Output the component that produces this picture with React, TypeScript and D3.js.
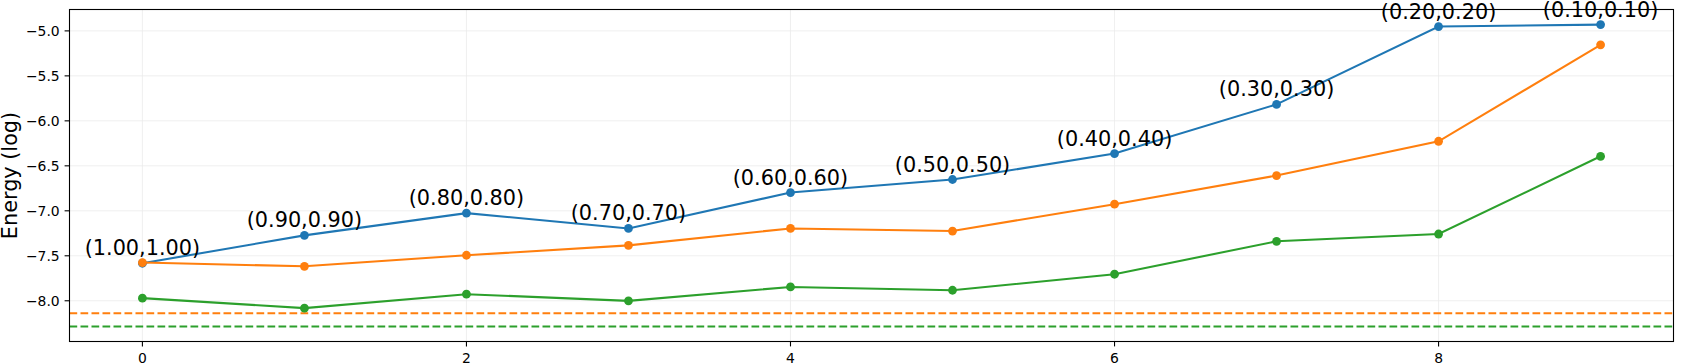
import React from "react";
import * as d3 from "d3";

const steps = [0, 1, 2, 3, 4, 5, 6, 7, 8, 9];
const labels = ["(1.00,1.00)", "(0.90,0.90)", "(0.80,0.80)", "(0.70,0.70)", "(0.60,0.60)", "(0.50,0.50)", "(0.40,0.40)", "(0.30,0.30)", "(0.20,0.20)", "(0.10,0.10)"];
const blueSeries = [-7.583, -7.273, -7.026, -7.196, -6.797, -6.652, -6.364, -5.817, -4.952, -4.93];
const orangeSeries = [-7.575, -7.617, -7.494, -7.384, -7.196, -7.225, -6.926, -6.608, -6.227, -5.155];
const greenSeries = [-7.971, -8.082, -7.927, -8.001, -7.846, -7.883, -7.705, -7.339, -7.258, -6.394];
const orangeRef = -8.14;
const greenRef = -8.285;
const xTicks = [0, 2, 4, 6, 8];
const yTicks = [-8.0, -7.5, -7.0, -6.5, -6.0, -5.5, -5.0];

const BLUE = "#1f77b4";
const ORANGE = "#ff7f0e";
const GREEN = "#2ca02c";
const FONT = "DejaVu Sans, sans-serif";

export default function App() {
  const W = 1683, H = 364;
  const L = 69.5, R = 1673.5, T = 9.5, B = 341.5;
  const xs = d3.scaleLinear().domain([-0.45, 9.45]).range([L, R]);
  const all = [...blueSeries, ...orangeSeries, ...greenSeries, orangeRef, greenRef];
  const lo = d3.min(all)!, hi = d3.max(all)!;
  const pad = (hi - lo) * 0.05;
  const ys = d3.scaleLinear().domain([lo - pad, hi + pad]).range([B, T]);
  const line = d3.line<number>().x((_, i) => xs(steps[i])).y((d) => ys(d));
  const fmt = (v: number) => v.toFixed(1).replace("-", "\u2212");
  const series = [
    { vals: blueSeries, color: BLUE },
    { vals: orangeSeries, color: ORANGE },
    { vals: greenSeries, color: GREEN },
  ];
  return (
    <svg width={W} height={H} style={{ position: "absolute", left: 0, top: 0, background: "#fff" }} fontFamily={FONT}>
      <rect x={0} y={0} width={W} height={H} fill="#fff" />
      {xTicks.map((t) => (
        <line key={"gx" + t} x1={xs(t)} x2={xs(t)} y1={T} y2={B} stroke="#ebebeb" strokeWidth={0.8} />
      ))}
      {yTicks.map((t) => (
        <line key={"gy" + t} x1={L} x2={R} y1={ys(t)} y2={ys(t)} stroke="#ebebeb" strokeWidth={0.8} />
      ))}
      <line x1={L} x2={R} y1={ys(orangeRef)} y2={ys(orangeRef)} stroke={ORANGE} strokeWidth={2} strokeDasharray="7.7,3.3" />
      <line x1={L} x2={R} y1={ys(greenRef)} y2={ys(greenRef)} stroke={GREEN} strokeWidth={2} strokeDasharray="7.7,3.3" />
      {series.map((s, k) => (
        <g key={k}>
          <path d={line(s.vals) || ""} fill="none" stroke={s.color} strokeWidth={2.08} />
          {s.vals.map((v, i) => (
            <circle key={i} cx={xs(steps[i])} cy={ys(v)} r={4.4} fill={s.color} />
          ))}
        </g>
      ))}
      <rect x={L} y={T} width={R - L} height={B - T} fill="none" stroke="#000" strokeWidth={1.1} />
      {blueSeries.map((v, i) => (
        <text key={"a" + i} x={xs(steps[i])} y={ys(v) - 8} textAnchor="middle" fontSize={20.8} fill="#000">
          {labels[i]}
        </text>
      ))}
      {xTicks.map((t) => (
        <g key={"xt" + t}>
          <line x1={xs(t)} x2={xs(t)} y1={B} y2={B + 4.9} stroke="#000" strokeWidth={1.1} />
          <text x={xs(t)} y={B + 21} textAnchor="middle" fontSize={13.9} fill="#000">
            {t}
          </text>
        </g>
      ))}
      {yTicks.map((t) => (
        <g key={"yt" + t}>
          <line x1={L - 4.9} x2={L} y1={ys(t)} y2={ys(t)} stroke="#000" strokeWidth={1.1} />
          <text x={L - 9.8} y={ys(t)} dy="0.35em" textAnchor="end" fontSize={13.9} fill="#000">
            {fmt(t)}
          </text>
        </g>
      ))}
      <text transform={`translate(17,${(T + B) / 2}) rotate(-90)`} textAnchor="middle" fontSize={20.8} fill="#000">
        Energy (log)
      </text>
    </svg>
  );
}
